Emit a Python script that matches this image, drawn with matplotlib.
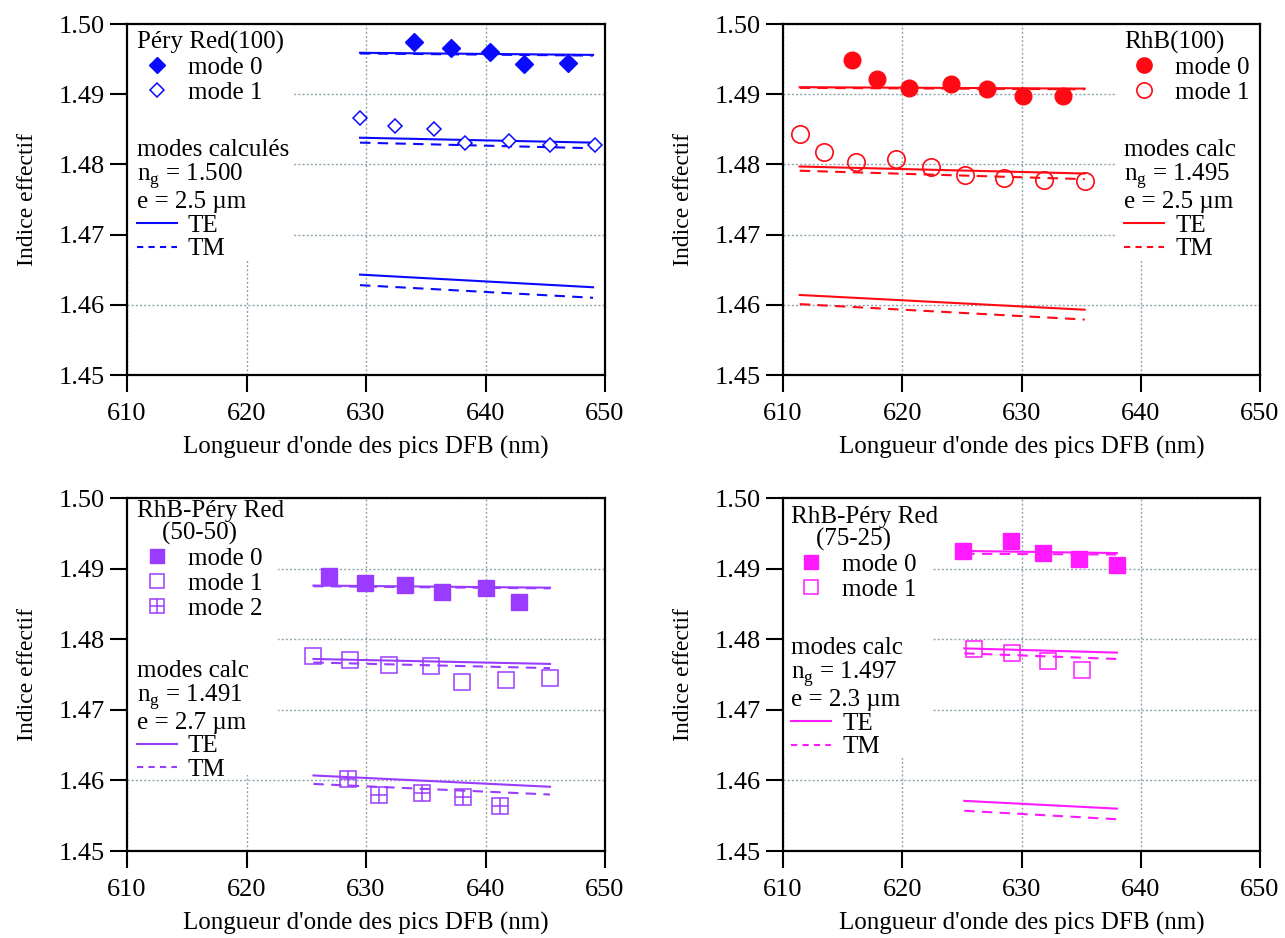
import matplotlib
matplotlib.use("Agg")
import matplotlib.pyplot as plt
from matplotlib.lines import Line2D
from matplotlib.patches import Rectangle

plt.rcParams['font.family'] = ['Liberation Serif', 'DejaVu Serif']
plt.rcParams['mathtext.fontset'] = 'custom'
plt.rcParams['mathtext.rm'] = 'Liberation Serif'

# axe x commun
x_ticks = [610, 620, 630, 640, 650]
y_ticks = [1.45, 1.46, 1.47, 1.48, 1.49, 1.50]

# Péry Red(100)
pery_m0_x = [634.0, 637.1, 640.4, 643.2, 646.9]
pery_m0_y = [1.4974, 1.4966, 1.4960, 1.4943, 1.4945]
pery_m1_x = [629.5, 632.4, 635.7, 638.3, 642.0, 645.4, 649.2]
pery_m1_y = [1.4866, 1.4854, 1.4851, 1.4830, 1.4834, 1.4827, 1.4827]
pery_calc_x = [629.5, 649.0]
pery_te = [[1.4959, 1.4956], [1.4838, 1.4831], [1.4643, 1.4625]]
pery_tm = [[1.4958, 1.4955], [1.4831, 1.4823], [1.4628, 1.4610]]

# RhB(100)
rhb_m0_x = [615.75, 617.85, 620.6, 624.05, 627.1, 630.1, 633.5]
rhb_m0_y = [1.4949, 1.4922, 1.4909, 1.4915, 1.4908, 1.4898, 1.4897]
rhb_m1_x = [611.4, 613.45, 616.15, 619.5, 622.4, 625.3, 628.5, 631.9, 635.3]
rhb_m1_y = [1.4844, 1.4818, 1.4803, 1.4807, 1.4796, 1.4785, 1.4780, 1.4778, 1.4777]
rhb_calc_x = [611.4, 635.3]
rhb_te = [[1.4910, 1.4908], [1.4797, 1.4787], [1.4614, 1.4593]]
rhb_tm = [[1.4909, 1.4907], [1.4791, 1.4779], [1.4601, 1.4579]]

# RhB-Péry Red (50-50)
mix50_m0_x = [626.9, 629.9, 633.3, 636.4, 640.05, 642.8]
mix50_m0_y = [1.4889, 1.4880, 1.4877, 1.4867, 1.4872, 1.4852]
mix50_m1_x = [625.6, 628.7, 631.9, 635.4, 638.0, 641.7, 645.4]
mix50_m1_y = [1.4776, 1.4770, 1.4764, 1.4762, 1.4740, 1.4742, 1.4745]
mix50_m2_x = [628.5, 631.1, 634.7, 638.1, 641.2]
mix50_m2_y = [1.4602, 1.4580, 1.4582, 1.4577, 1.4564]
mix50_calc_x = [625.6, 645.4]
mix50_te = [[1.4876, 1.4873], [1.4772, 1.4765], [1.4607, 1.4591]]
mix50_tm = [[1.4875, 1.4872], [1.4767, 1.4759], [1.4595, 1.4580]]

# RhB-Péry Red (75-25)
mix75_m0_x = [625.1, 629.1, 631.8, 634.8, 638.0]
mix75_m0_y = [1.4925, 1.4939, 1.4922, 1.4913, 1.4905]
mix75_m1_x = [626.05, 629.2, 632.2, 635.1]
mix75_m1_y = [1.4786, 1.4781, 1.4769, 1.4757]
mix75_calc_x = [625.2, 638.0]
mix75_te = [[1.4925, 1.4922], [1.4787, 1.4781], [1.4571, 1.4560]]
mix75_tm = [[1.4921, 1.4920], [1.4780, 1.4772], [1.4557, 1.4545]]

blue = '#0a0aff'
red = '#ff0a14'
purple = '#9a3cff'
magenta = '#ff1aff'
gridc = '#8fa5ad'

fig = plt.figure(figsize=(12.85, 9.38), dpi=100)
W, H = 1285.0, 938.0
ax1 = fig.add_axes([127 / W, 1 - 375 / H, 478 / W, 351 / H])
ax2 = fig.add_axes([783 / W, 1 - 375 / H, 477 / W, 351 / H])
ax3 = fig.add_axes([127 / W, 1 - 851 / H, 478 / W, 353 / H])
ax4 = fig.add_axes([783 / W, 1 - 851 / H, 477 / W, 353 / H])


def base(ax, box):
    ax.set_xlim(610, 650)
    ax.set_ylim(1.45, 1.50)
    ax.set_xticks(x_ticks)
    ax.set_yticks(y_ticks)
    ax.set_yticklabels(["%.2f" % v for v in y_ticks])
    ax.grid(True, color=gridc, linestyle=(0, (1.5, 1.5)), linewidth=1)
    ax.set_axisbelow(True)
    for s in ax.spines.values():
        s.set_linewidth(1.6)
    ax.tick_params(direction='out', length=12, width=1.5, labelsize=19,
                   top=False, right=False, pad=4)
    ax.tick_params(axis='x', pad=8)
    ax.set_xlabel("Longueur d'onde des pics DFB (nm)", fontsize=18, labelpad=8)
    ax.set_ylabel("Indice effectif", fontsize=17, labelpad=15)
    # fond blanc sous la legende
    ax.add_patch(Rectangle(box[:2], box[2], box[3], transform=ax.transAxes,
                           facecolor='white', edgecolor='none', zorder=1))


def calc_lines(ax, x, te, tm, c):
    for y in te:
        ax.plot(x, y, color=c, lw=1.5, zorder=3)
    for y in tm:
        ax.plot(x, y, color=c, lw=1.5, ls=(0, (5, 3.5)), zorder=3)


def legends(ax, c, title1, handles, labels, title2, x0, y1, y2):
    kw = dict(loc='upper left', frameon=False, borderpad=0, borderaxespad=0,
              handlelength=1.6, handletextpad=0.45, fontsize=18,
              title_fontsize=18, alignment='left', labelspacing=0.1)
    l1 = ax.legend(handles, labels, title=title1, bbox_to_anchor=(x0, y1), **kw)
    l1.get_title().set_linespacing(1.0)
    l1.set_zorder(5)
    ax.add_artist(l1)
    hl = [Line2D([], [], color=c, lw=1.5),
          Line2D([], [], color=c, lw=1.5, ls=(0, (3, 2.5)))]
    kw['labelspacing'] = 0.05
    l2 = ax.legend(hl, ["TE", "TM"], title=title2, bbox_to_anchor=(x0, y2), **kw)
    l2.get_title().set_linespacing(1.0)
    l2.set_zorder(5)


# Péry Red(100)
base(ax1, (0, 0.33, 0.35, 0.67))
calc_lines(ax1, pery_calc_x, pery_te, pery_tm, blue)
ax1.plot(pery_m0_x, pery_m0_y, 'D', color=blue, ms=9.5, zorder=4)
ax1.plot(pery_m1_x, pery_m1_y, 'D', mfc='white', mec=blue, ms=7.5, mew=1.1, zorder=4)
legends(ax1, blue, "Péry Red(100)",
        [Line2D([], [], marker='D', color=blue, ls='none', ms=8),
         Line2D([], [], marker='D', mfc='white', mec=blue, ls='none', ms=7, mew=1.1)],
        ["mode 0", "mode 1"],
        "modes calculés\nn$_\\mathrm{g}$ = 1.500\ne = 2.5 µm", 0.02, 0.98, 0.672)

# RhB(100)
base(ax2, (0.70, 0.33, 0.30, 0.67))
calc_lines(ax2, rhb_calc_x, rhb_te, rhb_tm, red)
ax2.plot(rhb_m0_x, rhb_m0_y, 'o', color=red, ms=12, zorder=4)
ax2.plot(rhb_m1_x, rhb_m1_y, 'o', mfc='none', mec=red, ms=12.5, mew=1.2, zorder=4)
legends(ax2, red, "RhB(100)",
        [Line2D([], [], marker='o', color=red, ls='none', ms=11),
         Line2D([], [], marker='o', mfc='none', mec=red, ls='none', ms=11, mew=1.2)],
        ["mode 0", "mode 1"],
        "modes calc\nn$_\\mathrm{g}$ = 1.495\ne = 2.5 µm", 0.715, 0.98, 0.672)

# RhB-Péry Red (50-50)
base(ax3, (0, 0.215, 0.316, 0.785))
calc_lines(ax3, mix50_calc_x, mix50_te, mix50_tm, purple)
ax3.plot(mix50_m0_x, mix50_m0_y, 's', color=purple, ms=11, zorder=4)
ax3.plot(mix50_m1_x, mix50_m1_y, 's', mfc='none', mec=purple, ms=12, mew=1.1, zorder=4)
ax3.plot(mix50_m2_x, mix50_m2_y, 's', mfc='none', mec=purple, ms=12, mew=1.1, zorder=4)
ax3.plot(mix50_m2_x, mix50_m2_y, '+', color=purple, ms=12, mew=1.1, zorder=4)
legends(ax3, purple, "RhB-Péry Red\n    (50-50)",
        [Line2D([], [], marker='s', color=purple, ls='none', ms=10),
         Line2D([], [], marker='s', mfc='none', mec=purple, ls='none', ms=10, mew=1.1),
         (Line2D([], [], marker='s', mfc='none', mec=purple, ls='none', ms=10, mew=1.1),
          Line2D([], [], marker='+', color=purple, ls='none', ms=10, mew=1.1))],
        ["mode 0", "mode 1", "mode 2"],
        "modes calc\nn$_\\mathrm{g}$ = 1.491\ne = 2.7 µm", 0.02, 0.994, 0.541)

# RhB-Péry Red (75-25)
base(ax4, (0, 0.263, 0.314, 0.737))
calc_lines(ax4, mix75_calc_x, mix75_te, mix75_tm, magenta)
ax4.plot(mix75_m0_x, mix75_m0_y, 's', color=magenta, ms=11, zorder=4)
ax4.plot(mix75_m1_x, mix75_m1_y, 's', mfc='none', mec=magenta, ms=11, mew=1.1, zorder=4)
legends(ax4, magenta, "RhB-Péry Red\n    (75-25)",
        [Line2D([], [], marker='s', color=magenta, ls='none', ms=10),
         Line2D([], [], marker='s', mfc='none', mec=magenta, ls='none', ms=10, mew=1.1)],
        ["mode 0", "mode 1"],
        "modes calc\nn$_\\mathrm{g}$ = 1.497\ne = 2.3 µm", 0.017, 0.977, 0.606)

fig.savefig("out.png", dpi=100)
